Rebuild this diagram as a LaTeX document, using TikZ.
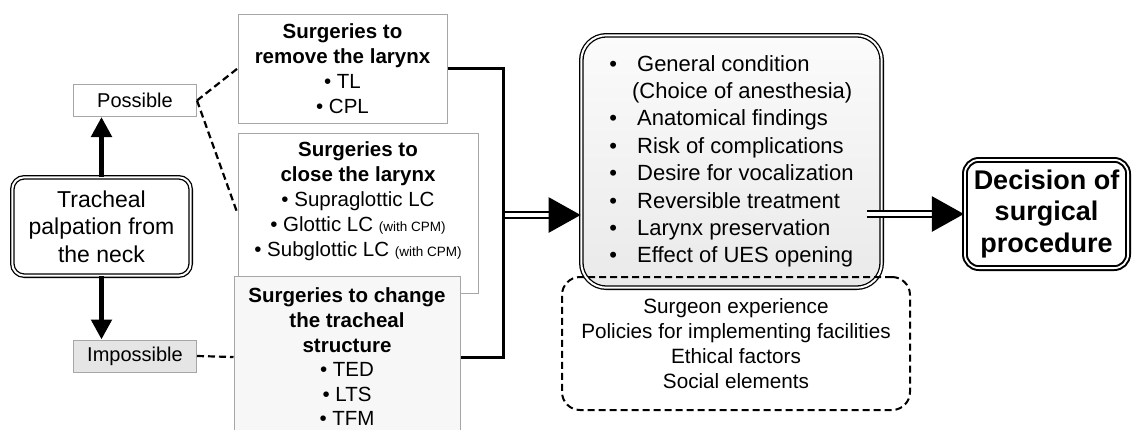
\documentclass[tikz,border=0pt]{standalone}
\usepackage{fontspec}
\setmainfont{Liberation Sans}
\usetikzlibrary{positioning,arrows.meta,shapes,calc}
\tikzset{
  choicebox/.style={draw=gray!70, line width=1pt, inner sep=0pt,
    minimum width=123pt, minimum height=32pt, font=\fontsize{20}{24}\selectfont},
  surgbox/.style={draw=gray!70, line width=1pt, fill=white, align=center, inner sep=0pt,
    font=\fontsize{20.5}{25}\selectfont},
  mainbox/.style={draw=black, double=white, line width=1.3pt, double distance=2pt,
    rounded corners=12pt, align=center, inner sep=0pt},
  fatarrow/.style={draw=black, line width=5.5pt, -{Triangle[length=20pt,width=20pt]}},
  dblarrow/.style={draw=black, double=white, line width=2.6pt, double distance=3.5pt,
    -{Triangle[length=32pt,width=35pt]}},
  dashlink/.style={draw=black, line width=2.2pt, dash pattern=on 7pt off 4pt},
  bus/.style={draw=black, line width=3pt, line join=miter},
  dashbox/.style={draw=black, line width=2pt, dash pattern=on 7pt off 4pt,
    rounded corners=18pt, align=center, inner sep=0pt, font=\fontsize{20.7}{25}\selectfont}
}
\newcommand{\cpm}{{\fontsize{13.5}{16}\selectfont(with CPM)}}

\begin{document}
\begin{tikzpicture}[x=1pt,y=-1pt]
  \useasboundingbox (0,0) rectangle (1134,429);
  \node[mainbox, minimum width=178.4pt, minimum height=98.4pt,
    font=\fontsize{23}{27.5}\selectfont] (trach) at (101.5,226.5)
    {Tracheal\\palpation from\\the neck};
  \node[choicebox] (poss) at (135,100.5) {Possible};
  \node[choicebox, fill=gray!20] (imposs) at (135,356) {Impossible};
  \node[surgbox, minimum width=209pt, minimum height=109pt] (remove) at (342.5,68.5)
    {\textbf{Surgeries to}\\\textbf{remove the larynx}\\• TL\\• CPL};
  \node[surgbox, minimum width=240pt, text height=123pt, text depth=37pt, anchor=north]
    (close) at (358,133)
    {\textbf{Surgeries to}\\\textbf{close the larynx}\\• Supraglottic LC\\
     • Glottic LC \cpm\\• Subglottic LC \cpm};
  \node[surgbox, fill=gray!6, minimum width=226pt, minimum height=162pt,
    font=\fontsize{20.5}{24.6}\selectfont] (change) at (347,357)
    {\textbf{Surgeries to change}\\\textbf{the tracheal}\\\textbf{structure}\\• TED\\• LTS\\• TFM};
  \node[mainbox, rounded corners=25pt, top color=gray!3, bottom color=gray!17,
    minimum width=300.4pt, minimum height=252.4pt,
    font=\fontsize{22}{27.4}\selectfont] (factors) at (731.5,161.5)
    {\begin{tabular}{@{}l@{\hspace{20pt}}l@{}}
      • & General condition\\
        & \hspace{-5pt}(Choice of anesthesia)\\
      • & Anatomical findings\\
      • & Risk of complications\\
      • & Desire for vocalization\\
      • & Reversible treatment\\
      • & Larynx preservation\\
      • & Effect of UES opening
     \end{tabular}};
  \node[dashbox, minimum width=348pt, minimum height=133pt] (extra) at (736,343.5)
    {Surgeon experience\\Policies for implementing facilities\\Ethical factors\\Social elements};
  \node[mainbox, line width=2pt, double distance=1.8pt, rounded corners=14pt,
    minimum width=163.2pt, minimum height=108.2pt,
    font=\bfseries\fontsize{27}{31.5}\selectfont] (decision) at (1046.5,214)
    {Decision of\\surgical\\procedure};
  \coordinate (jt) at (503,68.5);
  \coordinate (jm) at (503,215);
  \coordinate (jb) at (503,357);
  \coordinate (dm) at (867,214);
  \draw[fatarrow] (trach.north) -- (trach.north |- poss.south);
  \draw[fatarrow] (trach.south) -- (trach.south |- imposs.north);
  \draw[dashlink] (poss.east) -- (remove.west);
  \draw[dashlink] (poss.east) -- (close.west);
  \draw[dashlink] (imposs.east) -- (change.west);
  \draw[dblarrow] (jm) -- (factors.west |- jm);
  \draw[bus] (remove.east) -- (jt) -- (jb) -- (change.east);
  \draw[dblarrow] (dm) -- (decision.west);
\end{tikzpicture}
\end{document}
